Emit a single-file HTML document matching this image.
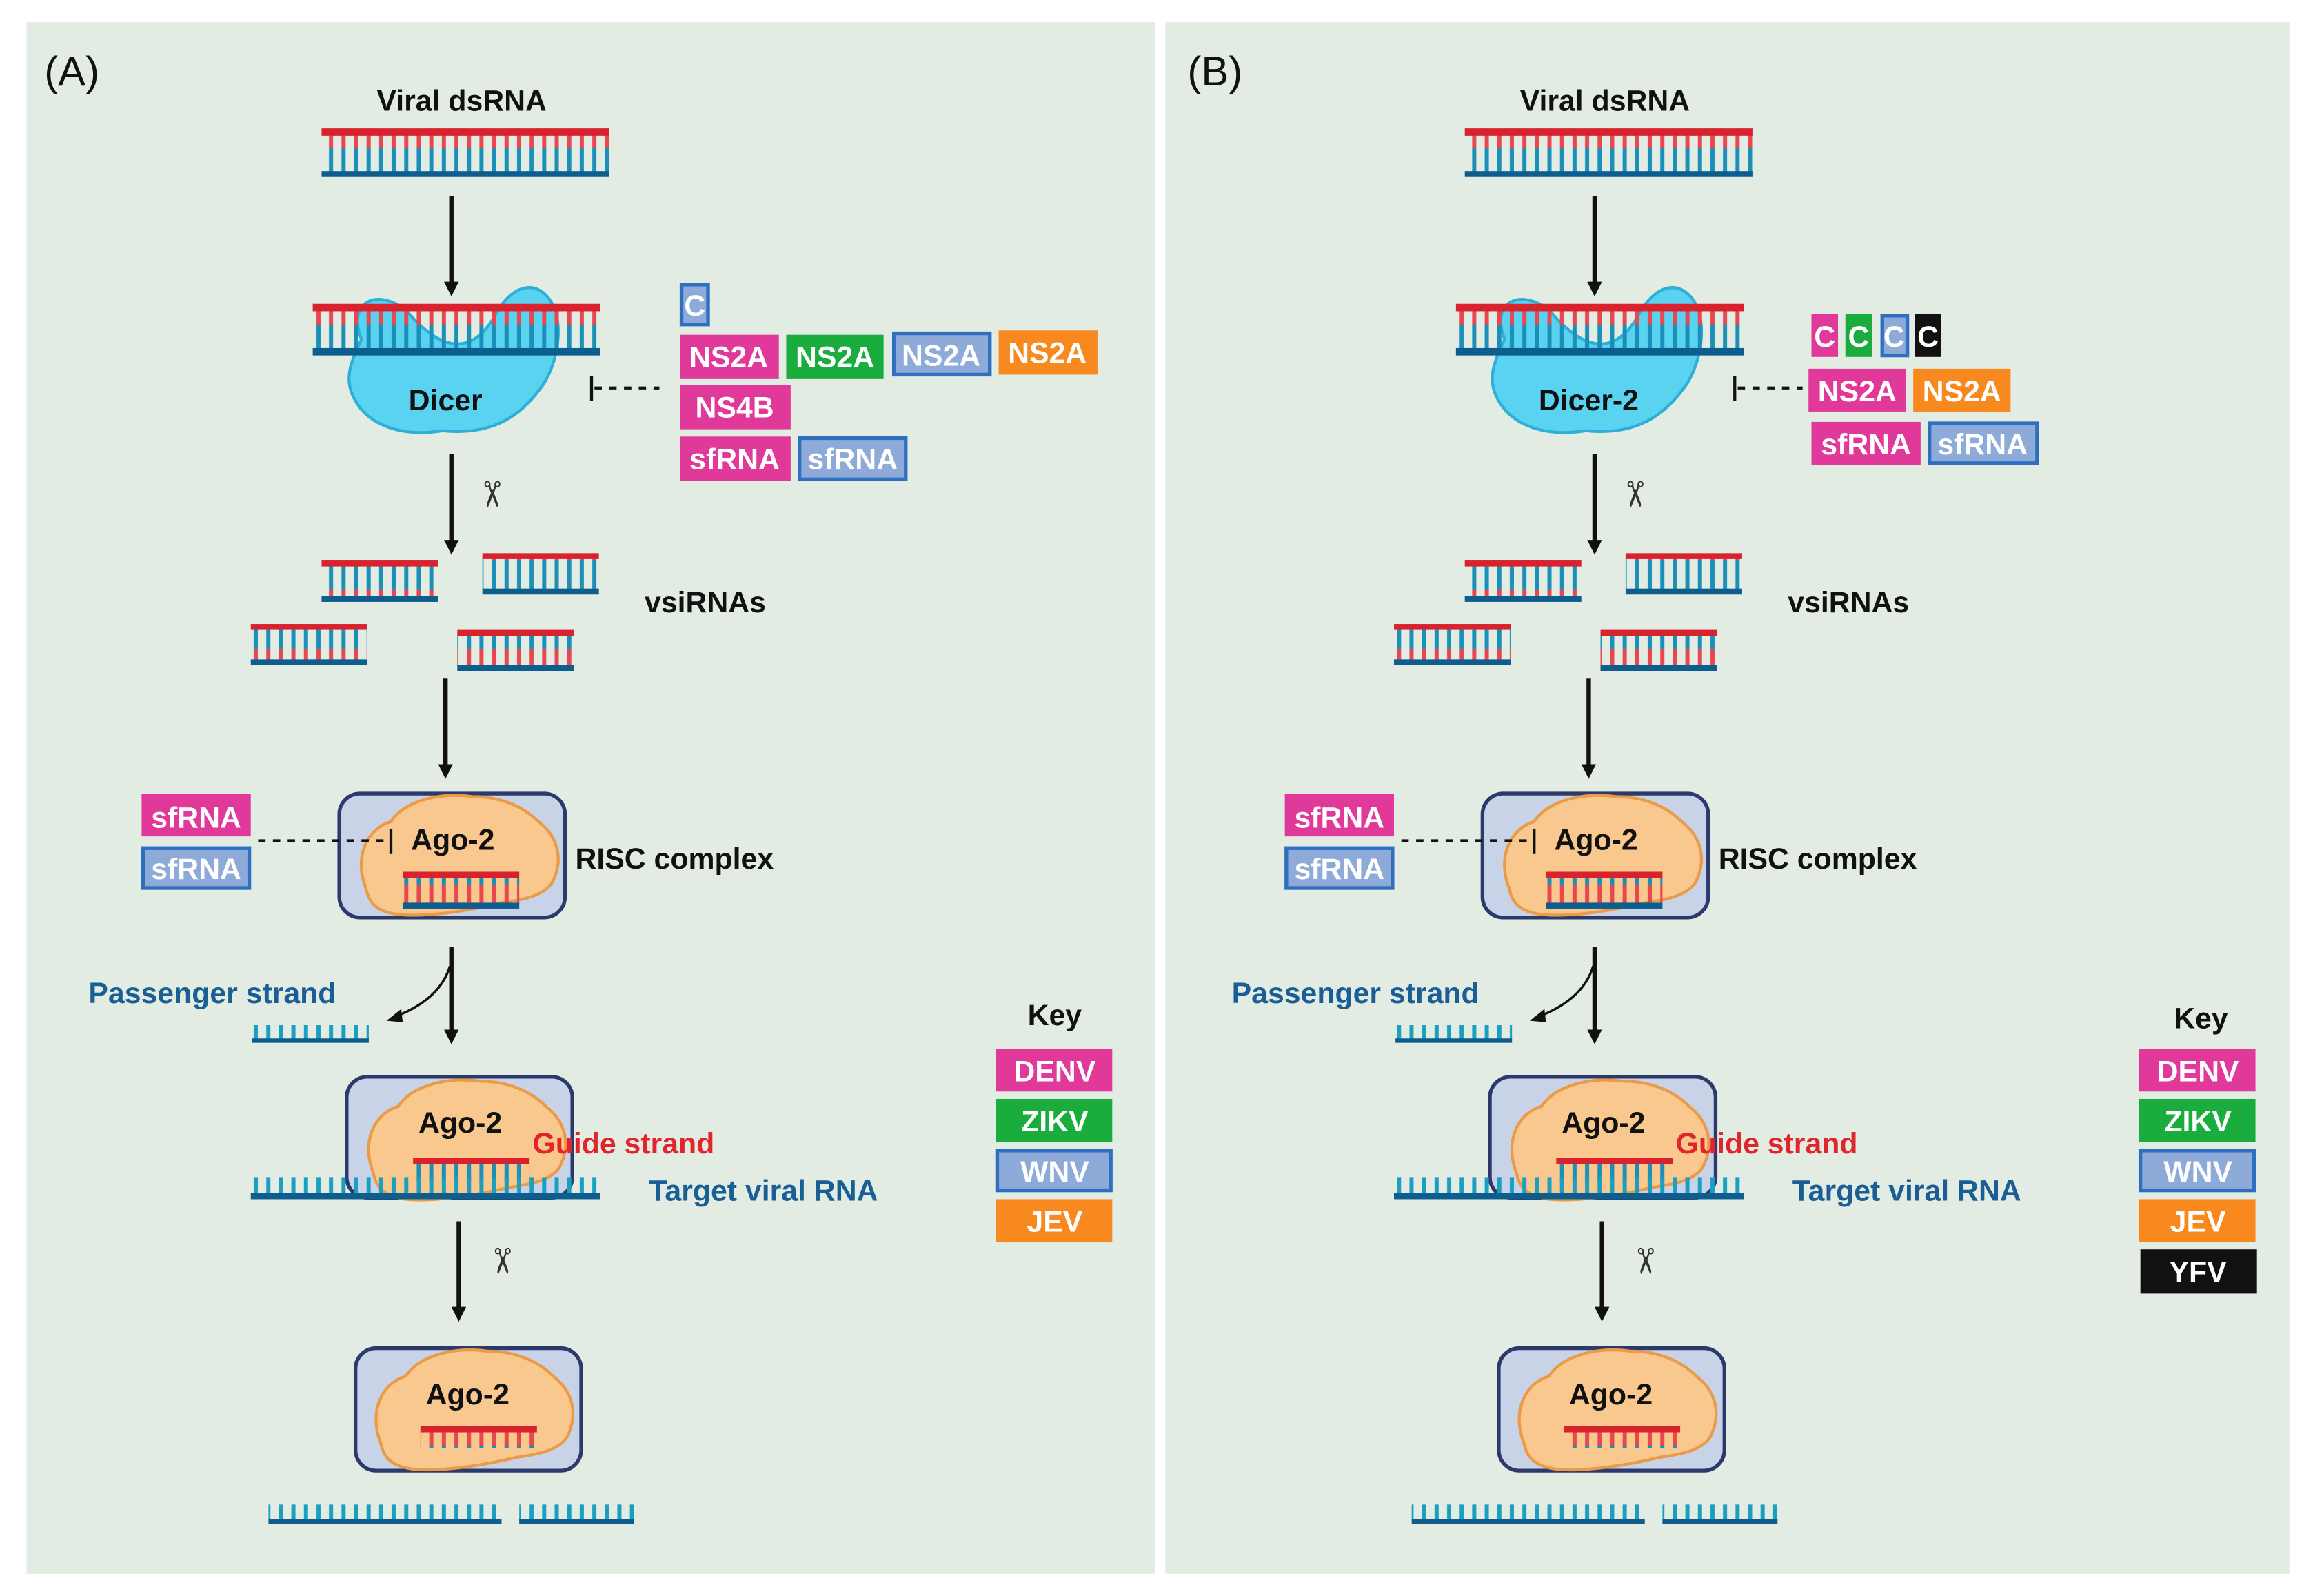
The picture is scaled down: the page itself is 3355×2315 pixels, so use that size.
<!DOCTYPE html>
<html><head><meta charset="utf-8"><style>
html,body{margin:0;padding:0;background:#fff;}
svg{display:block;}
text{font-family:"Liberation Sans",Arial,sans-serif;}
</style></head><body>
<svg width="3355" height="2315" viewBox="0 0 1568 1082" preserveAspectRatio="none" xmlns="http://www.w3.org/2000/svg">
<defs>
<pattern id="rung" x="0" y="0" width="8.5" height="40" patternUnits="userSpaceOnUse">
<rect x="2" y="0" width="2.8" height="20" fill="#e8474f"/>
<rect x="2" y="20" width="2.8" height="20" fill="#1b8fb8"/>
</pattern>
<pattern id="rungB" x="0" y="0" width="8.5" height="40" patternUnits="userSpaceOnUse">
<rect x="2" y="0" width="2.8" height="40" fill="#1b9fc0"/>
</pattern>
<marker id="ah" markerWidth="10" markerHeight="10" refX="5" refY="5" orient="auto" markerUnits="userSpaceOnUse" viewBox="0 0 10 10">
<path d="M0,0 L10,5 L0,10 z" fill="#111"/>
</marker>
<g id="ago">
<path d="M-62,20 C-70,0 -62,-20 -45,-25 C-35,-40 -10,-45 10,-42 C30,-42 45,-35 55,-25 C68,-15 72,0 65,15 C60,25 45,28 30,30 C10,35 -20,40 -40,38 C-55,36 -60,30 -62,20 z" fill="#f8c88e" stroke="#eb9a48" stroke-width="2"/>
</g>
<g id="common">
<rect x="218" y="90" width="195" height="28" fill="url(#rung)"/>
<rect x="218" y="87" width="195" height="5" fill="#d8232f"/>
<rect x="218" y="116" width="195" height="4" fill="#0d5d8f"/>
<line x1="306" y1="133" x2="306" y2="196" stroke="#111" stroke-width="3" marker-end="url(#ah)"/>
<path d="M245,230 C235,205 255,195 275,210 C300,240 320,240 335,215 C345,195 360,190 370,200 C385,215 378,250 365,265 C350,285 330,295 300,292 C275,296 250,290 240,270 C232,255 240,242 245,230 z" fill="#5ad3f0" stroke="#2cb0d8" stroke-width="2"/>
<rect x="212" y="210" width="195" height="28" fill="url(#rung)"/>
<rect x="212" y="206" width="195" height="5" fill="#d8232f"/>
<rect x="212" y="236" width="195" height="5" fill="#0d5d8f"/>
<line x1="401" y1="255" x2="401" y2="272" stroke="#111" stroke-width="2"/>
<line x1="403" y1="263" x2="447" y2="263" stroke="#111" stroke-width="2" stroke-dasharray="5,5"/>
<line x1="306" y1="308" x2="306" y2="371" stroke="#111" stroke-width="3" marker-end="url(#ah)"/>
<text x="325" y="335" font-size="24" fill="#333" text-anchor="middle" transform="rotate(90 325 335)">✂</text>
<g>
<rect x="218" y="383" width="79" height="22" fill="url(#rung)"/><rect x="218" y="380" width="79" height="4" fill="#d8232f"/><rect x="218" y="404" width="79" height="4" fill="#0d5d8f"/>
<rect x="327" y="378" width="79" height="22" fill="url(#rung)"/><rect x="327" y="375" width="79" height="4" fill="#d8232f"/><rect x="327" y="399" width="79" height="4" fill="#0d5d8f"/>
<rect x="170" y="426" width="79" height="22" fill="url(#rung)"/><rect x="170" y="423" width="79" height="4" fill="#d8232f"/><rect x="170" y="447" width="79" height="4" fill="#0d5d8f"/>
<rect x="310" y="430" width="79" height="22" fill="url(#rung)"/><rect x="310" y="427" width="79" height="4" fill="#d8232f"/><rect x="310" y="451" width="79" height="4" fill="#0d5d8f"/>
</g>
<line x1="302" y1="460" x2="302" y2="523" stroke="#111" stroke-width="3" marker-end="url(#ah)"/>
<rect x="230" y="538" width="153" height="84" rx="14" fill="#c9d3e8" stroke="#2b3a6b" stroke-width="2.5"/>
<use href="#ago" transform="translate(310,582)"/>
<rect x="273" y="595" width="79" height="18" fill="url(#rung)"/><rect x="273" y="591" width="79" height="4" fill="#d8232f"/><rect x="273" y="612" width="79" height="4" fill="#0d5d8f"/>
<rect x="96" y="538" width="74" height="29" fill="#e0399a"/>
<rect x="97" y="575" width="72" height="27" fill="#8eaad8" stroke="#2f6fc0" stroke-width="2.5"/>
<line x1="175" y1="570" x2="263" y2="570" stroke="#111" stroke-width="2" stroke-dasharray="5,5"/>
<line x1="265" y1="562" x2="265" y2="579" stroke="#111" stroke-width="2"/>
<line x1="306" y1="642" x2="306" y2="703" stroke="#111" stroke-width="3" marker-end="url(#ah)"/>
<path d="M305,655 C300,672 285,683 266,690" fill="none" stroke="#111" stroke-width="1.6"/>
<path d="M262,692 L272,684 L273,693 z" fill="#111"/>
<rect x="171" y="695" width="79" height="10" fill="url(#rungB)"/><rect x="171" y="704" width="79" height="3" fill="#0d5d8f"/>
<rect x="235" y="730" width="153" height="82" rx="14" fill="#c9d3e8" stroke="#2b3a6b" stroke-width="2.5"/>
<use href="#ago" transform="translate(315,775)"/>
<rect x="280" y="789" width="79" height="12" fill="url(#rung)"/><rect x="280" y="785" width="79" height="4" fill="#d8232f"/>
<rect x="170" y="798" width="237" height="12" fill="url(#rungB)"/><rect x="170" y="809" width="237" height="4" fill="#0d5d8f"/>
<line x1="311" y1="828" x2="311" y2="891" stroke="#111" stroke-width="3" marker-end="url(#ah)"/>
<text x="332" y="855" font-size="24" fill="#333" text-anchor="middle" transform="rotate(90 332 855)">✂</text>
<rect x="241" y="914" width="153" height="83" rx="14" fill="#c9d3e8" stroke="#2b3a6b" stroke-width="2.5"/>
<use href="#ago" transform="translate(320,958)"/>
<rect x="285" y="970" width="79" height="12" fill="url(#rung)"/><rect x="285" y="967" width="79" height="4" fill="#d8232f"/>
<rect x="182" y="1020" width="158" height="11" fill="url(#rungB)"/><rect x="182" y="1030" width="158" height="3" fill="#0d5d8f"/>
<rect x="352" y="1020" width="78" height="11" fill="url(#rungB)"/><rect x="352" y="1030" width="78" height="3" fill="#0d5d8f"/>
<rect x="675" y="711" width="79" height="29" fill="#e0399a"/>
<rect x="675" y="745" width="79" height="29" fill="#1aac3c"/>
<rect x="676" y="780" width="77" height="27" fill="#8eaad8" stroke="#2f6fc0" stroke-width="2.5"/>
<rect x="675" y="813" width="79" height="29" fill="#f7891f"/>
</g>
</defs>
<rect x="18" y="15" width="765" height="1052" fill="#e3ece3"/>
<rect x="790" y="15" width="762" height="1052" fill="#e3ece3"/>
<use href="#common"/>
<use href="#common" transform="translate(775,0)"/>

<g font-weight="bold" font-size="20">
<text x="30" y="58" font-size="28" font-weight="normal" fill="#111">(A)</text>
<text x="313" y="75" text-anchor="middle" fill="#111">Viral dsRNA</text>
<text x="302" y="278" text-anchor="middle" fill="#111">Dicer</text>
<text x="437" y="415" fill="#111">vsiRNAs</text>
<text x="307" y="576" text-anchor="middle" fill="#111">Ago-2</text>
<text x="390" y="589" fill="#111">RISC complex</text>
<text x="60" y="680" fill="#1a5e96">Passenger strand</text>
<text x="312" y="768" text-anchor="middle" fill="#111">Ago-2</text>
<text x="361" y="782" fill="#e0262c">Guide strand</text>
<text x="440" y="814" fill="#1a5e96">Target viral RNA</text>
<text x="317" y="952" text-anchor="middle" fill="#111">Ago-2</text>
<text x="715" y="695" text-anchor="middle" fill="#111">Key</text>
<text x="133" y="561" text-anchor="middle" fill="#fff">sfRNA</text>
<text x="133" y="596" text-anchor="middle" fill="#fff">sfRNA</text>
<text x="715" y="733" text-anchor="middle" fill="#fff">DENV</text>
<text x="715" y="767" text-anchor="middle" fill="#fff">ZIKV</text>
<text x="715" y="801" text-anchor="middle" fill="#fff">WNV</text>
<text x="715" y="835" text-anchor="middle" fill="#fff">JEV</text>
<rect x="462" y="193" width="18" height="27" fill="#8eaad8" stroke="#2f6fc0" stroke-width="2.5"/>
<text x="471" y="214" text-anchor="middle" fill="#fff">C</text>
<rect x="461" y="227" width="67" height="30" fill="#e0399a"/><text x="494" y="249" text-anchor="middle" fill="#fff">NS2A</text>
<rect x="533" y="227" width="66" height="30" fill="#1aac3c"/><text x="566" y="249" text-anchor="middle" fill="#fff">NS2A</text>
<rect x="606" y="226" width="65" height="28" fill="#8eaad8" stroke="#2f6fc0" stroke-width="2.5"/><text x="638" y="248" text-anchor="middle" fill="#fff">NS2A</text>
<rect x="677" y="224" width="67" height="30" fill="#f7891f"/><text x="710" y="246" text-anchor="middle" fill="#fff">NS2A</text>
<rect x="461" y="261" width="75" height="30" fill="#e0399a"/><text x="498" y="283" text-anchor="middle" fill="#fff">NS4B</text>
<rect x="461" y="296" width="75" height="30" fill="#e0399a"/><text x="498" y="318" text-anchor="middle" fill="#fff">sfRNA</text>
<rect x="542" y="297" width="72" height="28" fill="#8eaad8" stroke="#2f6fc0" stroke-width="2.5"/><text x="578" y="318" text-anchor="middle" fill="#fff">sfRNA</text>

<text x="805" y="58" font-size="28" font-weight="normal" fill="#111">(B)</text>
<text x="1088" y="75" text-anchor="middle" fill="#111">Viral dsRNA</text>
<text x="1077" y="278" text-anchor="middle" fill="#111">Dicer-2</text>
<text x="1212" y="415" fill="#111">vsiRNAs</text>
<text x="1082" y="576" text-anchor="middle" fill="#111">Ago-2</text>
<text x="1165" y="589" fill="#111">RISC complex</text>
<text x="835" y="680" fill="#1a5e96">Passenger strand</text>
<text x="1087" y="768" text-anchor="middle" fill="#111">Ago-2</text>
<text x="1136" y="782" fill="#e0262c">Guide strand</text>
<text x="1215" y="814" fill="#1a5e96">Target viral RNA</text>
<text x="1092" y="952" text-anchor="middle" fill="#111">Ago-2</text>
<text x="1492" y="697" text-anchor="middle" fill="#111">Key</text>
<text x="908" y="561" text-anchor="middle" fill="#fff">sfRNA</text>
<text x="908" y="596" text-anchor="middle" fill="#fff">sfRNA</text>
<text x="1490" y="733" text-anchor="middle" fill="#fff">DENV</text>
<text x="1490" y="767" text-anchor="middle" fill="#fff">ZIKV</text>
<text x="1490" y="801" text-anchor="middle" fill="#fff">WNV</text>
<text x="1490" y="835" text-anchor="middle" fill="#fff">JEV</text>
<rect x="1451" y="847" width="79" height="30" fill="#111"/><text x="1490" y="869" text-anchor="middle" fill="#fff">YFV</text>
<rect x="1228" y="213" width="18" height="29" fill="#e0399a"/><text x="1237" y="235" text-anchor="middle" fill="#fff">C</text>
<rect x="1251" y="213" width="18" height="29" fill="#1aac3c"/><text x="1260" y="235" text-anchor="middle" fill="#fff">C</text>
<rect x="1276" y="214" width="17" height="27" fill="#8eaad8" stroke="#2f6fc0" stroke-width="2.5"/><text x="1284" y="235" text-anchor="middle" fill="#fff">C</text>
<rect x="1298" y="213" width="18" height="29" fill="#111"/><text x="1307" y="235" text-anchor="middle" fill="#fff">C</text>
<rect x="1226" y="250" width="66" height="29" fill="#e0399a"/><text x="1259" y="272" text-anchor="middle" fill="#fff">NS2A</text>
<rect x="1297" y="250" width="66" height="29" fill="#f7891f"/><text x="1330" y="272" text-anchor="middle" fill="#fff">NS2A</text>
<rect x="1228" y="286" width="74" height="29" fill="#e0399a"/><text x="1265" y="308" text-anchor="middle" fill="#fff">sfRNA</text>
<rect x="1308" y="287" width="73" height="27" fill="#8eaad8" stroke="#2f6fc0" stroke-width="2.5"/><text x="1344" y="308" text-anchor="middle" fill="#fff">sfRNA</text>
</g>
</svg>
</body></html>
